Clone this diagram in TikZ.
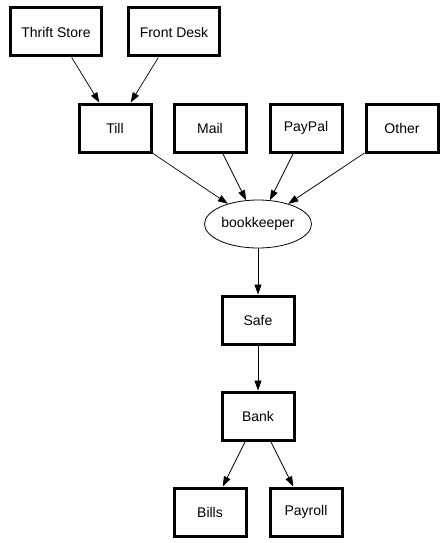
\documentclass[tikz,border=0pt]{standalone}
\usepackage{fontspec}
\setmainfont{Liberation Sans}
\usetikzlibrary{shapes.geometric, arrows.meta}

\begin{document}
\begin{tikzpicture}[x=1pt, y=-1pt,
    >={Triangle[length=10pt,width=7pt]},
    flowbox/.style={draw, line width=3pt, minimum width=72pt, minimum height=48pt,
      inner xsep=11pt, inner ysep=0pt, font=\fontsize{14}{16}\selectfont},
    keeper/.style={draw, ellipse, line width=0.8pt, minimum width=107pt,
      minimum height=48pt, inner sep=0pt, font=\fontsize{14}{16}\selectfont},
    flow/.style={->, line width=0.7pt}]
  \useasboundingbox (0,0) rectangle (446,543);
  % Sources of money
  \node[flowbox] (thrift) at (56,32) {Thrift Store};
  \node[flowbox] (desk) at (174,32) {Front Desk};
  \node[flowbox] (till) at (115,128) {Till};
  \node[flowbox] (mail) at (210,128) {Mail};
  \node[flowbox] (paypal) at (306,128) {PayPal};
  \node[flowbox] (other) at (402,128) {Other};
  % Everything goes through the bookkeeper
  \node[keeper] (keeper) at (258,224) {bookkeeper};
  \node[flowbox] (safe) at (258,320) {Safe};
  \node[flowbox] (bank) at (258,416) {Bank};
  % Outgoing
  \node[flowbox] (bills) at (210,512) {Bills};
  \node[flowbox] (payroll) at (306,512) {Payroll};
  % Connectors
  \draw[flow] (thrift) -- (till);
  \draw[flow] (desk) -- (till);
  \draw[flow] (till) -- (keeper);
  \draw[flow] (mail) -- (keeper);
  \draw[flow] (paypal) -- (keeper);
  \draw[flow] (other) -- (keeper);
  \draw[flow] (keeper) -- (safe);
  \draw[flow] (safe) -- (bank);
  \draw[flow] (bank) -- (bills);
  \draw[flow] (bank) -- (payroll);
\end{tikzpicture}
\end{document}
